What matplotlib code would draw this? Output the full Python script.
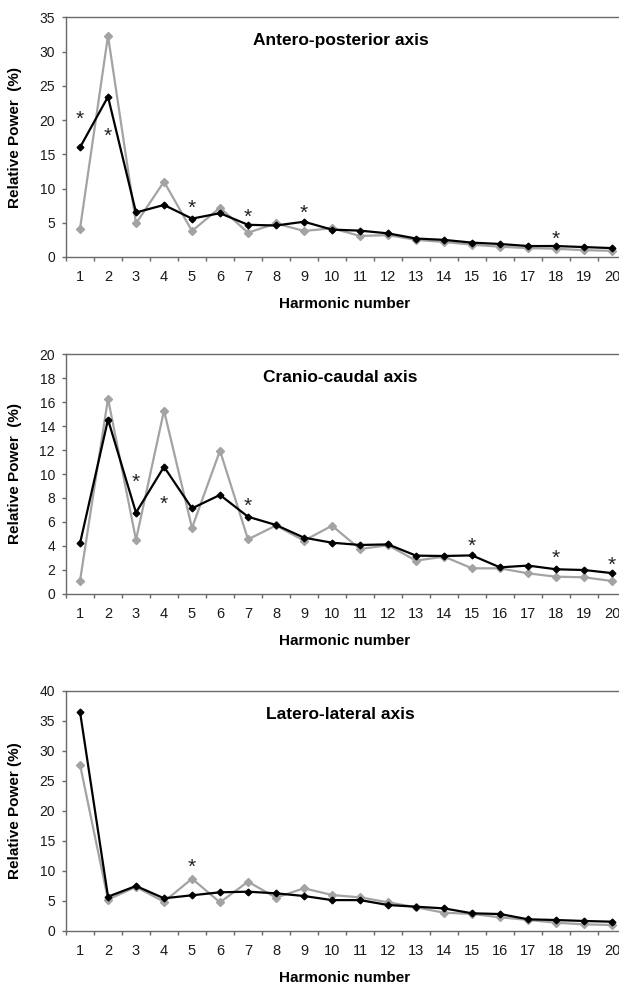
import matplotlib
matplotlib.use("Agg")
import matplotlib.pyplot as plt
from matplotlib.ticker import FixedLocator, NullFormatter

plt.rcParams['font.family'] = ['Liberation Sans', 'DejaVu Sans']

harmonics = list(range(1, 21))

ap_gray = [4.1, 32.3, 4.9, 11.0, 3.8, 7.2, 3.55, 4.9, 3.8, 4.2, 3.07, 3.2, 2.5, 2.2, 1.8, 1.5, 1.3, 1.2, 1.0, 0.9]
ap_black = [16.0, 23.4, 6.5, 7.6, 5.6, 6.4, 4.7, 4.6, 5.15, 4.0, 3.85, 3.45, 2.7, 2.5, 2.1, 1.9, 1.6, 1.6, 1.45, 1.3]
ap_star_x = [1, 2, 5, 7, 9, 18]
ap_star_y = [20.9, 18.5, 7.9, 6.6, 7.2, 3.45]

cc_gray = [1.06, 16.3, 4.5, 15.3, 5.5, 11.95, 4.54, 5.7, 4.43, 5.68, 3.73, 4.05, 2.76, 3.1, 2.12, 2.12, 1.7, 1.42, 1.37, 1.06]
cc_black = [4.2, 14.55, 6.77, 10.6, 7.13, 8.25, 6.43, 5.74, 4.68, 4.26, 4.07, 4.12, 3.18, 3.15, 3.2, 2.2, 2.35, 2.04, 1.98, 1.72]
cc_star_x = [3, 4, 7, 15, 18, 20]
cc_star_y = [9.77, 7.97, 7.8, 4.46, 3.38, 2.8]

ll_gray = [27.7, 5.2, 7.3, 4.83, 8.67, 4.73, 8.17, 5.5, 7.07, 5.95, 5.56, 4.73, 3.9, 3.0, 2.8, 2.23, 1.8, 1.33, 1.06, 0.95]
ll_black = [36.5, 5.67, 7.45, 5.4, 5.9, 6.4, 6.5, 6.23, 5.78, 5.1, 5.1, 4.28, 4.0, 3.72, 2.9, 2.78, 1.9, 1.78, 1.62, 1.5]
ll_star_x = [5]
ll_star_y = [11.5]

titles = ["Antero-posterior axis", "Cranio-caudal axis", "Latero-lateral axis"]
ylabels = ["Relative Power  (%)", "Relative Power  (%)", "Relative Power (%)"]
xlabel = "Harmonic number"
ymaxes = [35, 20, 40]
ysteps = [5, 2, 5]

panels = [
    (ap_gray, ap_black, ap_star_x, ap_star_y),
    (cc_gray, cc_black, cc_star_x, cc_star_y),
    (ll_gray, ll_black, ll_star_x, ll_star_y),
]

W, H = 619, 986
fig = plt.figure(figsize=(W / 100, H / 100), dpi=100)

left_px = 66
width_px = 560
tops_px = [17.3, 354.3, 690.7]
bottoms_px = [257.0, 593.7, 930.7]

axis_col = '#6a6a6a'
gray_col = '#a3a3a3'

for i, (g, b, sx, sy) in enumerate(panels):
    top, bot = tops_px[i], bottoms_px[i]
    ax = fig.add_axes([left_px / W, (H - bot) / H, width_px / W, (bot - top) / H])
    ax.plot(harmonics, g, color=gray_col, lw=1.6, marker='D', ms=3.6,
            mfc=gray_col, mec=gray_col, zorder=2)
    ax.plot(harmonics, b, color='black', lw=1.6, marker='D', ms=3.4,
            mfc='black', mec='black', zorder=3)
    for x, y in zip(sx, sy):
        ax.annotate('*', (x, y), xytext=(0, -4), textcoords='offset points',
                    ha='center', va='center', fontsize=15, color='#222222')
    ax.set_xlim(0.5, 20.5)
    ax.set_ylim(0, ymaxes[i])
    ax.set_yticks(list(range(0, ymaxes[i] + 1, ysteps[i])))
    # boundaries between categories carry tick marks, labels at centres
    ax.xaxis.set_major_locator(FixedLocator([h - 0.5 for h in harmonics] + [20.5]))
    ax.xaxis.set_major_formatter(NullFormatter())
    ax.xaxis.set_minor_locator(FixedLocator(harmonics))
    ax.set_xticklabels([str(h) for h in harmonics], minor=True)
    ax.tick_params(axis='x', which='major', direction='out', length=3, width=1,
                   color=axis_col)
    ax.tick_params(axis='x', which='minor', length=0, pad=9.5, labelsize=10.5,
                   labelcolor='#1a1a1a')
    ax.tick_params(axis='y', direction='out', length=3, width=1, color=axis_col,
                   pad=5, labelsize=10, labelcolor='#1a1a1a')
    for side in ['left', 'bottom', 'top']:
        ax.spines[side].set_color(axis_col)
        ax.spines[side].set_linewidth(1)
    ax.spines['right'].set_visible(False)

    ax.text(0.49, 1 - 23.5 / (bot - top), titles[i], transform=ax.transAxes,
            ha='center', va='center', fontsize=12.5, fontweight='bold')
    ax.set_ylabel(ylabels[i], fontsize=11, fontweight='bold')
    ax.yaxis.label.set_va('center')
    ax.yaxis.set_label_coords((15 - left_px) / width_px, 0.5)
    ax.set_xlabel(xlabel, fontsize=11, fontweight='bold')
    ax.xaxis.label.set_va('center')
    ax.xaxis.set_label_coords(0.498, -47.5 / (bot - top))

fig.savefig('out.png', dpi=100)
